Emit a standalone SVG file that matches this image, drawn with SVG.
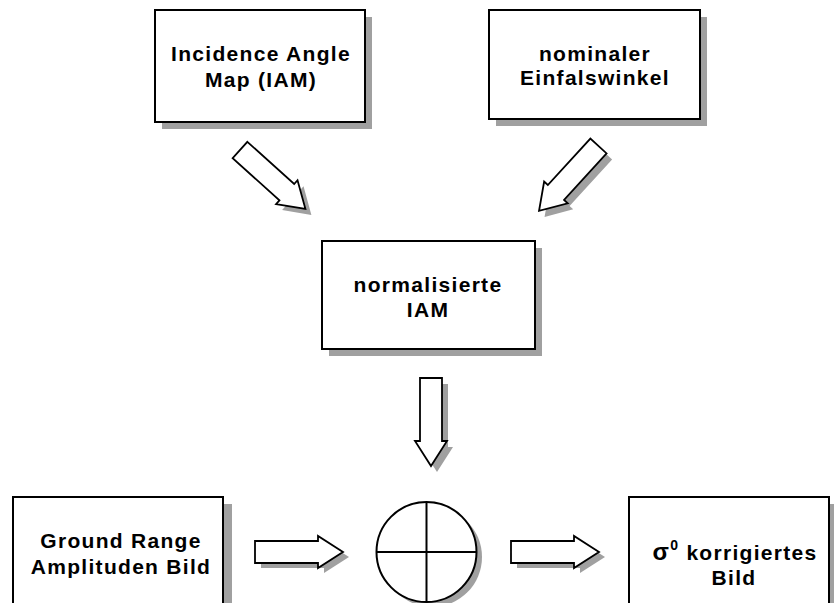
<svg xmlns="http://www.w3.org/2000/svg" width="834" height="603" viewBox="0 0 834 603">
<style>
.box{fill:#fff;stroke:#000;stroke-width:2}
.sh{fill:#a0a0a0;stroke:none}
.arr{fill:#fff;stroke:#000;stroke-width:1.8;stroke-linejoin:miter}
.t{font-family:"Liberation Sans",Arial,sans-serif;font-weight:bold;font-size:21px;letter-spacing:1.3px;text-anchor:middle;fill:#000}
.ln{stroke:#000;stroke-width:2;fill:none}
</style>
<defs>
<path id="ar" d="M0,-11 L63,-11 L63,-16 L88,0 L63,16 L63,11 L0,11 Z"/>
</defs>
<rect width="834" height="603" fill="#fff"/>

<g id="iam">
<rect class="sh" x="162" y="17" width="210" height="112"/>
<rect class="box" x="155" y="10" width="210" height="112"/>
<text class="t" x="261" y="61">Incidence Angle</text>
<text class="t" x="261" y="87">Map (IAM)</text>
</g>

<g id="nominal">
<rect class="sh" x="496" y="17" width="211" height="109"/>
<rect class="box" x="489" y="10" width="211" height="109"/>
<text class="t" x="595" y="61">nominaler</text>
<text class="t" x="595" y="85">Einfalswinkel</text>
</g>

<g id="norm">
<rect class="sh" x="329" y="248" width="213" height="108"/>
<rect class="box" x="322" y="241" width="213" height="108"/>
<text class="t" x="428" y="292">normalisierte</text>
<text class="t" x="428" y="317">IAM</text>
</g>

<g id="ground">
<rect class="sh" x="20" y="504" width="212" height="110"/>
<rect class="box" x="13" y="497" width="210" height="110"/>
<text class="t" x="121" y="548">Ground Range</text>
<text class="t" x="121" y="574">Amplituden Bild</text>
</g>

<g id="sigma">
<rect class="sh" x="636" y="504" width="210" height="110"/>
<rect class="box" x="629" y="497" width="200" height="110"/>
<text class="t" x="735" y="560"><tspan font-size="24">σ</tspan><tspan font-size="14" dy="-10">0</tspan><tspan dy="10"> korrigiertes</tspan></text>
<text class="t" x="734" y="585">Bild</text>
</g>

<g id="combine">
<circle class="sh" cx="432" cy="557" r="50"/>
<circle class="box" cx="426.5" cy="552" r="50"/>
<line class="ln" x1="376.5" y1="552" x2="476.5" y2="552"/>
<line class="ln" x1="426.5" y1="502" x2="426.5" y2="602"/>
</g>

<g id="connectors">
<use href="#ar" class="sh" transform="translate(246,156) rotate(42)"/>
<use href="#ar" class="arr" transform="translate(240,150) rotate(42)"/>
<use href="#ar" class="sh" transform="translate(604,152) rotate(132.5)"/>
<use href="#ar" class="arr" transform="translate(598.5,146) rotate(132.5)"/>
<use href="#ar" class="sh" transform="translate(437,384) rotate(90)"/>
<use href="#ar" class="arr" transform="translate(431,378) rotate(90)"/>
<use href="#ar" class="sh" transform="translate(261,557)"/>
<use href="#ar" class="arr" transform="translate(255,552)"/>
<use href="#ar" class="sh" transform="translate(517,557)"/>
<use href="#ar" class="arr" transform="translate(511,552)"/>
</g>
</svg>
